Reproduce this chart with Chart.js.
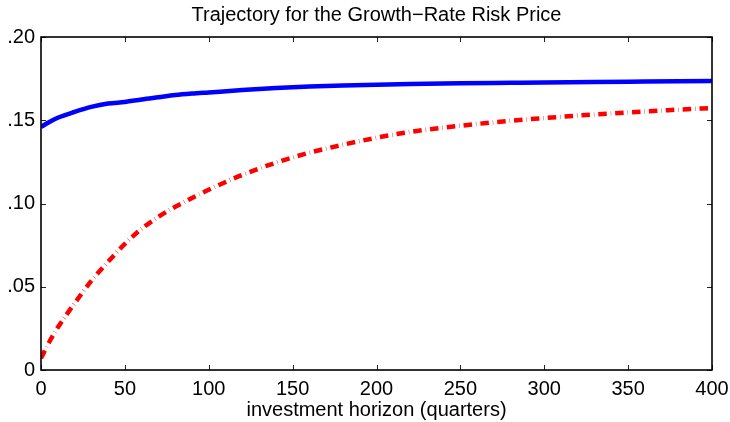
<!DOCTYPE html>
<html>
<head>
<meta charset="utf-8">
<script src="https://cdn.jsdelivr.net/npm/chart.js@4/dist/chart.umd.min.js"></script>
<style>
  html, body { margin: 0; padding: 0; background: #ffffff; }
  #wrap { width: 730px; height: 422px; position: relative; }
</style>
</head>
<body>
<div id="wrap"><canvas id="chart"></canvas></div>
<script>
// Investment horizon in quarters
const horizons = [0, 5, 10, 20, 30, 40, 50, 60, 70, 80, 90, 100, 120, 140, 160, 180, 200, 220, 250, 280, 300, 330, 360, 400];
// Risk price trajectory, solid blue curve
const solidPrice = [0.146, 0.149, 0.1515, 0.155, 0.158, 0.160, 0.161, 0.1625, 0.1638, 0.1651, 0.166, 0.1667,
                    0.1681, 0.1693, 0.1702, 0.1709, 0.1713, 0.1717, 0.1722, 0.1725, 0.1727, 0.1729, 0.1732, 0.1736];
// Risk price trajectory, dash-dot red curve
const dashedPrice = [0.007, 0.017, 0.0255, 0.040, 0.0535, 0.065, 0.0758, 0.0848, 0.0920, 0.0980, 0.1033, 0.1083,
                     0.1172, 0.1245, 0.1305, 0.1353, 0.1395, 0.1430, 0.1467, 0.1497, 0.1513, 0.1535, 0.1553, 0.1574];
// Axis ticks
const xTicks = [0, 50, 100, 150, 200, 250, 300, 350, 400];
const yTicks = [0, 0.05, 0.10, 0.15, 0.20];

const chartTitle = 'Trajectory for the Growth\u2212Rate Risk Price';
const xAxisTitle = 'investment horizon (quarters)';

const FONT = '"Liberation Sans", Arial, Helvetica, sans-serif';

const toPoints = vals => horizons.map((h, i) => ({ x: h, y: vals[i] }));

function yLabel(v) {
  const n = Math.round(v * 100);
  return n === 0 ? '0' : '.' + String(n).padStart(2, '0');
}

// Box around the plot, inward tick marks on all four sides and the title
const framePlugin = {
  id: 'frame',
  afterDraw(chart) {
    const { ctx, chartArea: a, scales } = chart;
    const tl = 5;
    ctx.save();
    ctx.strokeStyle = '#222';
    ctx.lineWidth = 1;
    ctx.beginPath();
    scales.x.ticks.forEach(t => {
      const px = Math.round(scales.x.getPixelForValue(t.value)) + 0.5;
      ctx.moveTo(px, a.bottom); ctx.lineTo(px, a.bottom - tl);
      ctx.moveTo(px, a.top); ctx.lineTo(px, a.top + tl);
    });
    scales.y.ticks.forEach(t => {
      const py = Math.round(scales.y.getPixelForValue(t.value)) + 0.5;
      ctx.moveTo(a.left, py); ctx.lineTo(a.left + tl, py);
      ctx.moveTo(a.right, py); ctx.lineTo(a.right - tl, py);
    });
    ctx.stroke();

    ctx.strokeStyle = '#000';
    ctx.lineWidth = 1.6;
    ctx.strokeRect(a.left, a.top, a.right - a.left, a.bottom - a.top);

    ctx.fillStyle = '#000';
    ctx.font = '20px ' + FONT;
    ctx.textAlign = 'center';
    ctx.textBaseline = 'alphabetic';
    ctx.fillText(chartTitle, (a.left + a.right) / 2, 21);
    ctx.restore();
  }
};

new Chart(document.getElementById('chart'), {
  type: 'line',
  data: {
    datasets: [
      {
        data: toPoints(solidPrice),
        borderColor: '#0000ff',
        borderWidth: 4.5,
        pointRadius: 0,
        cubicInterpolationMode: 'monotone',
        fill: false
      },
      {
        data: toPoints(dashedPrice),
        borderColor: '#ff0000',
        borderWidth: 4.5,
        borderDash: [8.5, 4, 0.4, 4],
        borderCapStyle: 'butt',
        pointRadius: 0,
        cubicInterpolationMode: 'monotone',
        fill: false
      }
    ]
  },
  options: {
    responsive: true,
    maintainAspectRatio: false,
    animation: false,
    events: [],
    layout: { padding: { top: 37, right: 18, bottom: 0, left: 0 } },
    plugins: { legend: { display: false }, title: { display: false }, tooltip: { enabled: false } },
    scales: {
      x: {
        type: 'linear',
        min: 0,
        max: 400,
        afterBuildTicks: s => { s.ticks = xTicks.map(v => ({ value: v })); },
        afterFit: s => { s.height = 52; s.paddingLeft = 0; s.paddingRight = 0; },
        grid: { display: false, drawTicks: false },
        border: { display: false },
        ticks: {
          color: '#000',
          padding: 7,
          maxRotation: 0,
          font: { family: FONT, size: 20 },
          callback: v => String(v)
        },
        title: {
          display: true,
          text: xAxisTitle,
          color: '#000',
          padding: { top: 0, bottom: 0 },
          font: { family: FONT, size: 20 }
        }
      },
      y: {
        type: 'linear',
        min: 0,
        max: 0.20,
        afterBuildTicks: s => { s.ticks = yTicks.map(v => ({ value: v })); },
        afterFit: s => { s.width = 41; s.paddingTop = 0; s.paddingBottom = 0; },
        grid: { display: false, drawTicks: false },
        border: { display: false },
        ticks: {
          color: '#000',
          padding: 6,
          font: { family: FONT, size: 20 },
          callback: v => yLabel(v)
        }
      }
    }
  },
  plugins: [framePlugin]
});
</script>
</body>
</html>
